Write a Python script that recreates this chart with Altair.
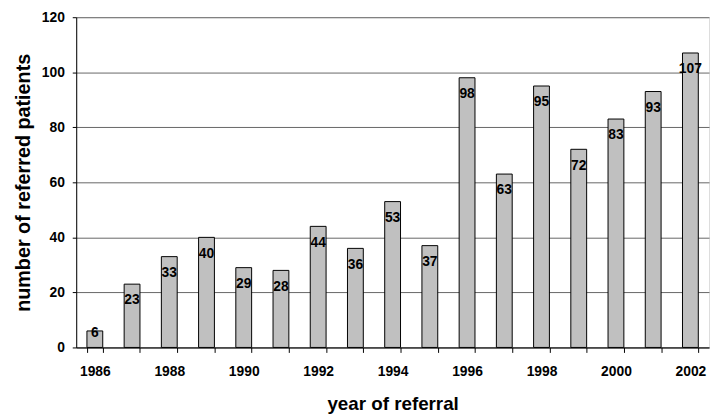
import altair as alt
import pandas as pd

years = [str(y) for y in range(1986, 2003)]
patients = [6, 23, 33, 40, 29, 28, 44, 36, 53, 37, 98, 63, 95, 72, 83, 93, 107]

df = pd.DataFrame({"year": years, "patients": patients})

FONT = "Liberation Sans"

x_enc = alt.X(
    "year:N",
    title="year of referral",
    sort=years,
    scale=alt.Scale(paddingInner=0.575, paddingOuter=0.2875),
    axis=alt.Axis(
        labelAngle=0,
        tickBand="extent",
        labelExpr="parseInt(datum.value) % 2 == 0 ? datum.label : ''",
        labelOverlap=False,
        labelFont=FONT,
        labelFontSize=14,
        labelFontWeight="bold",
        labelColor="black",
        labelPadding=12,
        tickColor="black",
        tickSize=5,
        domainColor="black",
        titleFont=FONT,
        titleFontSize=19,
        titleFontWeight="bold",
        titleColor="black",
        titlePadding=17,
        grid=False,
    ),
)

y_enc = alt.Y(
    "patients:Q",
    title="number of referred patients",
    scale=alt.Scale(domain=[0, 120], nice=False),
    axis=alt.Axis(
        values=[0, 20, 40, 60, 80, 100, 120],
        labelFont=FONT,
        labelFontSize=14,
        labelFontWeight="bold",
        labelColor="black",
        labelPadding=8,
        tickColor="black",
        tickSize=4,
        domainColor="black",
        gridColor="#666666",
        gridWidth=1,
        titleFont=FONT,
        titleFontSize=20,
        titleFontWeight="bold",
        titleColor="black",
        titlePadding=8,
    ),
)

bars = alt.Chart(df).mark_bar(
    color="#c0c0c0", stroke="black", strokeWidth=1
).encode(x=x_enc, y=y_enc)

labels = alt.Chart(df).transform_calculate(
    label_y="datum.patients > 15 ? datum.patients - 5.9 : datum.patients - 0.6"
).mark_text(
    font=FONT, fontSize=14, fontWeight="bold", color="black", baseline="middle"
).encode(
    x=alt.X("year:N", sort=years),
    y=alt.Y("label_y:Q"),
    text=alt.Text("patients:Q"),
)

chart = (
    alt.layer(bars, labels)
    .properties(
        width=640,
        height=334,
        autosize=alt.AutoSizeParams(type="none"),
        padding={"left": 69, "top": 7, "right": 1, "bottom": 66},
    )
    .configure_view(stroke=None)
    .configure(background="white")
)

chart.save("out.html", embed_options={"renderer": "svg", "actions": False})
